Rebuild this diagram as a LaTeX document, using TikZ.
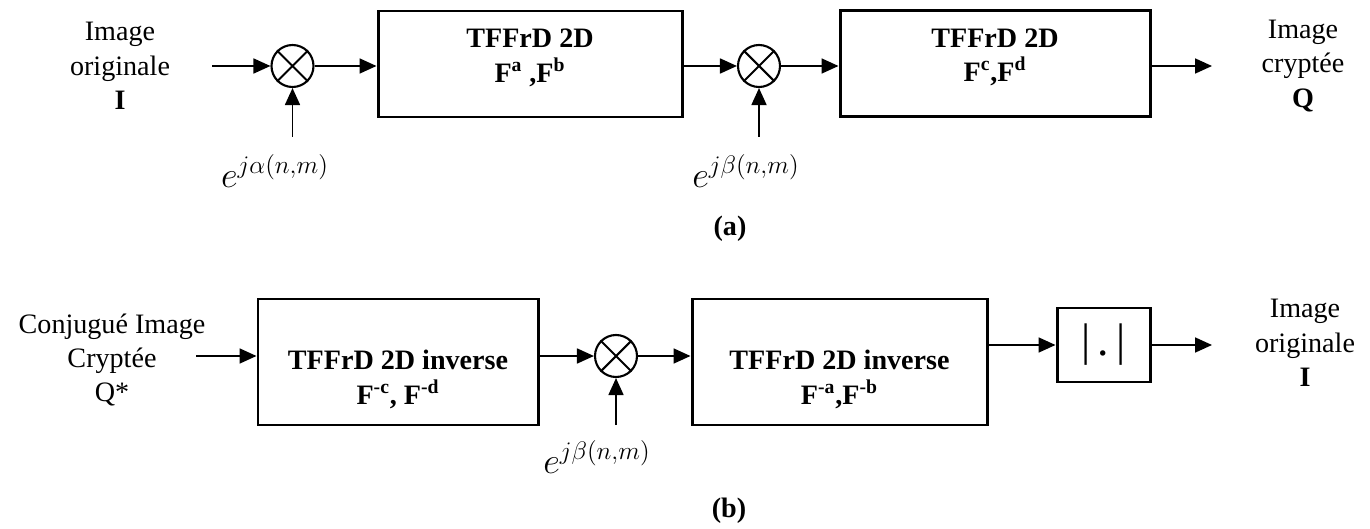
\documentclass[tikz,border=0pt]{standalone}
\usepackage{fontspec}
\setmainfont{Liberation Serif}
\usetikzlibrary{positioning, arrows.meta, calc}
\tikzset{
    blkstyle/.style={rectangle, draw=black, line width=1.7pt, minimum width=#1, minimum height=2.12cm, inner sep=0pt},
    absbox/.style={rectangle, draw=black, line width=1.7pt, minimum width=1.86cm, minimum height=1.48cm, inner sep=0pt, font=\fontsize{26}{30}\selectfont},
    mixer/.style={circle, draw=black, line width=1.2pt, minimum size=0.84cm, inner sep=0pt},
    txtlbl/.style={align=center, font=\fontsize{16}{19.5}\selectfont},
    boxtxt/.style={align=center, font=\fontsize{16}{19.5}\selectfont\bfseries},
    phaselbl/.style={font=\fontsize{20}{24}\selectfont},
    sublbl/.style={font=\fontsize{16}{19.5}\selectfont\bfseries},
    arr/.style={-{Triangle[length=0.34cm, width=0.3cm]}, line width=1pt}
}

\begin{document}
\begin{tikzpicture}
    \useasboundingbox (0,0) rectangle (27.4,10.56);

    % (a) chiffrement
    \node[txtlbl] (srcA) at (2.40,9.24) {Image\\originale\\\textbf{I}};
    \coordinate (inA) at (4.24,9.24);
    \node[mixer] (m1) at (5.85,9.24) {};
    \node[blkstyle=6.08cm] (tf1) at (10.60,9.28) {};
    \node[boxtxt] (tf1t) at ([yshift=0.12cm]tf1.center) {TFFrD 2D\\F\textsuperscript{a} ,F\textsuperscript{b}};
    \node[mixer] (m2) at (15.18,9.24) {};
    \node[blkstyle=6.20cm] (tf2) at (19.90,9.29) {};
    \node[boxtxt] (tf2t) at ([yshift=0.12cm]tf2.center) {TFFrD 2D\\F\textsuperscript{c},F\textsuperscript{d}};
    \coordinate (outA) at (24.24,9.24);
    \node[txtlbl] (dstA) at (26.06,9.24) {Image\\cryptée\\\textbf{Q}};
    \coordinate (pa) at (5.85,7.82);
    \node[phaselbl] (alpha) at (5.50,7.14) {$e^{j\alpha(n,m)}$};
    \coordinate (pb) at (15.18,7.82);
    \node[phaselbl] (beta) at (14.92,7.14) {$e^{j\beta(n,m)}$};
    \node[sublbl] (capA) at (14.60,5.98) {(a)};

    \draw[arr] (inA) -- (m1.west);
    \draw[arr] (m1.east) -- (m1.east -| tf1.west);
    \draw[arr] (tf1.east |- m2) -- (m2.west);
    \draw[arr] (m2.east) -- (m2.east -| tf2.west);
    \draw[arr] (tf2.east |- outA) -- (outA);
    \draw[arr] (pa) -- (m1.south);
    \draw[arr] (pb) -- (m2.south);

    % (b) dechiffrement
    \node[txtlbl] (srcB) at (2.24,3.36) {Conjugué Image\\Cryptée\\Q*};
    \coordinate (inB) at (3.92,3.44);
    \node[blkstyle=5.60cm, minimum height=2.52cm] (inv1) at (7.96,3.32) {};
    \node[boxtxt] (inv1t) at ([yshift=-0.35cm]inv1.center) {TFFrD 2D inverse\\F\textsuperscript{-c}, F\textsuperscript{-d}};
    \node[mixer] (m3) at (12.32,3.44) {};
    \node[blkstyle=5.90cm, minimum height=2.52cm] (inv2) at (16.79,3.32) {};
    \node[boxtxt] (inv2t) at ([yshift=-0.35cm]inv2.center) {TFFrD 2D inverse\\F\textsuperscript{-a},F\textsuperscript{-b}};
    \node[absbox] (mod) at (22.07,3.66) {|\,.\,|};
    \coordinate (outB) at (24.24,3.66);
    \node[txtlbl] (dstB) at (26.10,3.70) {Image\\originale\\\textbf{I}};
    \coordinate (pc) at (12.32,2.06);
    \node[phaselbl] (beta2) at (11.94,1.42) {$e^{j\beta(n,m)}$};
    \node[sublbl] (capB) at (14.58,0.34) {(b)};

    \draw[arr] (inB) -- (inB -| inv1.west);
    \draw[arr] (inv1.east |- m3) -- (m3.west);
    \draw[arr] (m3.east) -- (m3.east -| inv2.west);
    \draw[arr] (inv2.east |- mod) -- (mod.west);
    \draw[arr] (mod.east) -- (outB);
    \draw[arr] (pc) -- (m3.south);

    % croix des multiplieurs
    \foreach \m in {m1, m2, m3}
        \draw[line width=1.2pt] (\m.north west) -- (\m.south east) (\m.north east) -- (\m.south west);
\end{tikzpicture}
\end{document}
